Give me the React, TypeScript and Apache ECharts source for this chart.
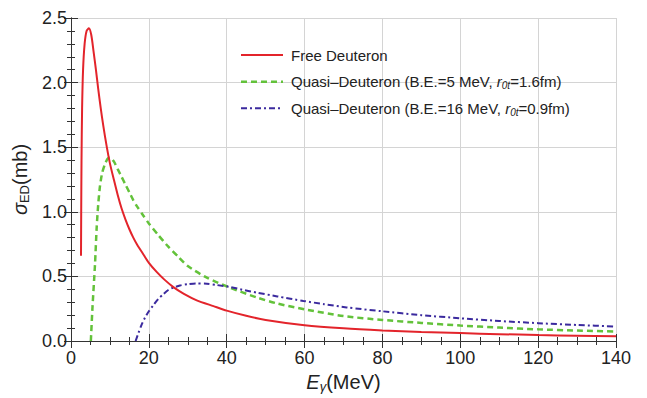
import React, { useEffect, useRef } from "react";
import * as echarts from "echarts";

const freeE = [2.57, 2.62, 2.7, 2.85, 3.1, 3.5, 4.0, 4.6, 5.2, 5.8, 6.4, 7.0, 7.6, 8.3, 9.2, 10, 11, 12, 13, 14, 15, 16, 17, 18.6, 20, 22, 24, 26.3, 29, 32.3, 36.6, 40, 45, 50, 60, 70, 80, 90, 100, 110, 120, 130, 140];
const freeS = [0.66, 1.0, 1.4, 1.8, 2.1, 2.3, 2.4, 2.42, 2.37, 2.24, 2.1, 1.95, 1.81, 1.665, 1.5, 1.375, 1.25, 1.13, 1.025, 0.94, 0.865, 0.8, 0.745, 0.67, 0.605, 0.535, 0.475, 0.417, 0.365, 0.315, 0.27, 0.235, 0.195, 0.163, 0.122, 0.098, 0.082, 0.07, 0.061, 0.053, 0.046, 0.041, 0.036];

const qd5E = [5.1, 5.5, 6.16, 6.6, 7.0, 7.45, 8.0, 8.73, 9.4, 10.0, 11, 12, 13, 14, 15, 16, 17, 18.6, 20, 22.4, 25, 27.6, 30, 34.9, 40.8, 47.7, 53, 60, 70, 80, 90, 100, 110, 120, 130, 140];
const qd5S = [0, 0.25, 0.59, 0.88, 1.06, 1.2, 1.3, 1.37, 1.41, 1.42, 1.39, 1.33, 1.27, 1.21, 1.15, 1.09, 1.04, 0.97, 0.91, 0.82, 0.73, 0.65, 0.58, 0.49, 0.413, 0.337, 0.29, 0.245, 0.193, 0.163, 0.14, 0.12, 0.104, 0.09, 0.081, 0.074];

const qd16E = [16.6, 17.3, 18.2, 19, 20, 21.1, 22.4, 23.7, 25, 26.3, 28, 30, 32, 34.9, 37.5, 40.8, 44, 47.7, 53, 59.7, 65, 70.8, 80, 90, 100, 110, 120, 130, 140];
const qd16S = [0, 0.06, 0.13, 0.18, 0.23, 0.275, 0.325, 0.362, 0.395, 0.413, 0.43, 0.44, 0.446, 0.444, 0.433, 0.419, 0.397, 0.375, 0.345, 0.31, 0.285, 0.26, 0.23, 0.2, 0.176, 0.155, 0.138, 0.124, 0.112];

const xTicks = { min: 0, max: 140, interval: 20 };
const yTicks = { min: 0, max: 2.5, interval: 0.5 };

const seriesNames = ["Free Deuteron", "Quasi–Deuteron (B.E.=5 MeV, r0t=1.6fm)", "Quasi–Deuteron (B.E.=16 MeV, r0t=0.9fm)"];
const legendRich = [
  "{a|Free Deuteron}",
  "{a|Quasi–Deuteron (B.E.=5 MeV, }{i|r}{s|0t}{a|=1.6fm)}",
  "{a|Quasi–Deuteron (B.E.=16 MeV, }{i|r}{s|0t}{a|=0.9fm)}",
];
const colors = ["#E3242B", "#63C23A", "#3B2A9E"];
const dashes: (number[] | null)[] = [null, [6, 4], [6, 3, 2, 3]];
const widths = [2, 2.5, 2];

const FONT = "'Liberation Sans', Arial, sans-serif";
const zip = (xs: number[], ys: number[]) => xs.map((x, i) => [x, ys[i]]);

export default function App() {
  const ref = useRef<HTMLDivElement>(null);
  useEffect(() => {
    if (!ref.current) return;
    const chart = echarts.init(ref.current, undefined, { renderer: "svg" });
    const frame = { show: true, lineStyle: { color: "#333", width: 1 } };
    const lbl = { color: "#222", fontSize: 18, fontFamily: FONT };
    const tick = { inside: true, length: 7, lineStyle: { color: "#333" } };
    const legendRich2 = {
      a: { fontFamily: FONT, fontSize: 15, fill: "#222", lineHeight: 18 },
      i: { fontFamily: FONT, fontSize: 15, fontStyle: "italic", fill: "#222", lineHeight: 18 },
      s: { fontFamily: FONT, fontSize: 10, fontStyle: "italic", fill: "#222", lineHeight: 10, verticalAlign: "bottom", padding: [6, 0, 0, 0] },
    };
    const legendGraphics: any[] = [];
    const rowY = [55, 81.7, 108.3];
    seriesNames.forEach((_, k) => {
      legendGraphics.push({
        type: "line",
        shape: { x1: 241, y1: rowY[k], x2: 283, y2: rowY[k] },
        style: { stroke: colors[k], lineWidth: widths[k], lineDash: dashes[k] || undefined },
        z: 10,
      });
      legendGraphics.push({
        type: "text",
        x: 291,
        y: rowY[k],
        style: { text: legendRich[k], rich: legendRich2, verticalAlign: "middle", align: "left", font: `15px ${FONT}`, fill: "#222" },
        z: 10,
      });
    });
    chart.setOption({
      animation: false,
      backgroundColor: "#fff",
      grid: { left: 71, right: 31, top: 18, bottom: 54 },
      graphic: legendGraphics,
      xAxis: [
        {
          type: "value",
          ...xTicks,
          position: "bottom",
          axisLine: frame,
          axisTick: tick,
          minorTick: { show: true, splitNumber: 4, length: 4, lineStyle: { color: "#333" } },
          splitLine: { show: true, lineStyle: { color: "#d4d4d4", width: 1 } },
          axisLabel: { ...lbl, margin: 8 },
          name: "{i|E}{g|γ}{n|(MeV)}",
          nameLocation: "middle",
          nameGap: 30,
          nameTextStyle: {
            rich: {
              i: { fontFamily: FONT, fontSize: 20, fontStyle: "italic", color: "#222", lineHeight: 22 },
              g: { fontFamily: FONT, fontSize: 13, fontStyle: "italic", color: "#222", lineHeight: 13, verticalAlign: "bottom", padding: [8, 0, 0, 0] },
              n: { fontFamily: FONT, fontSize: 20, color: "#222", lineHeight: 22 },
            },
          },
        },
        {
          type: "value",
          ...xTicks,
          position: "top",
          axisLine: frame,
          axisTick: tick,
          minorTick: { show: true, splitNumber: 4, length: 4, lineStyle: { color: "#333" } },
          splitLine: { show: false },
          axisLabel: { show: false },
        },
      ],
      yAxis: [
        {
          type: "value",
          ...yTicks,
          position: "left",
          axisLine: frame,
          axisTick: tick,
          minorTick: { show: true, splitNumber: 5, length: 4, lineStyle: { color: "#333" } },
          splitLine: { show: true, lineStyle: { color: "#d4d4d4", width: 1 } },
          axisLabel: { ...lbl, margin: 4, formatter: (v: number) => v.toFixed(1) },
          name: "{i|σ}{s|ED}{n|(mb)}",
          nameLocation: "middle",
          nameGap: 34,
          nameTextStyle: {
            rich: {
              i: { fontFamily: FONT, fontSize: 20, fontStyle: "italic", color: "#222", lineHeight: 22 },
              s: { fontFamily: FONT, fontSize: 13, color: "#222", lineHeight: 13, verticalAlign: "bottom", padding: [8, 0, 0, 0] },
              n: { fontFamily: FONT, fontSize: 20, color: "#222", lineHeight: 22 },
            },
          },
        },
        {
          type: "value",
          ...yTicks,
          position: "right",
          axisLine: frame,
          axisTick: tick,
          minorTick: { show: true, splitNumber: 5, length: 4, lineStyle: { color: "#333" } },
          splitLine: { show: false },
          axisLabel: { show: false },
        },
      ],
      series: [zip(freeE, freeS), zip(qd5E, qd5S), zip(qd16E, qd16S)].map((d, k) => ({
        name: seriesNames[k],
        type: "line",
        xAxisIndex: 0,
        yAxisIndex: 0,
        symbol: "none",
        smooth: 0.25,
        data: d,
        lineStyle: { color: colors[k], width: widths[k], type: dashes[k] || "solid" },
        itemStyle: { color: colors[k] },
        z: k === 0 ? 4 : 3,
      })),
    });
    return () => chart.dispose();
  }, []);
  return <div ref={ref} style={{ position: "fixed", left: 0, top: 0, width: 647, height: 398 }} />;
}
